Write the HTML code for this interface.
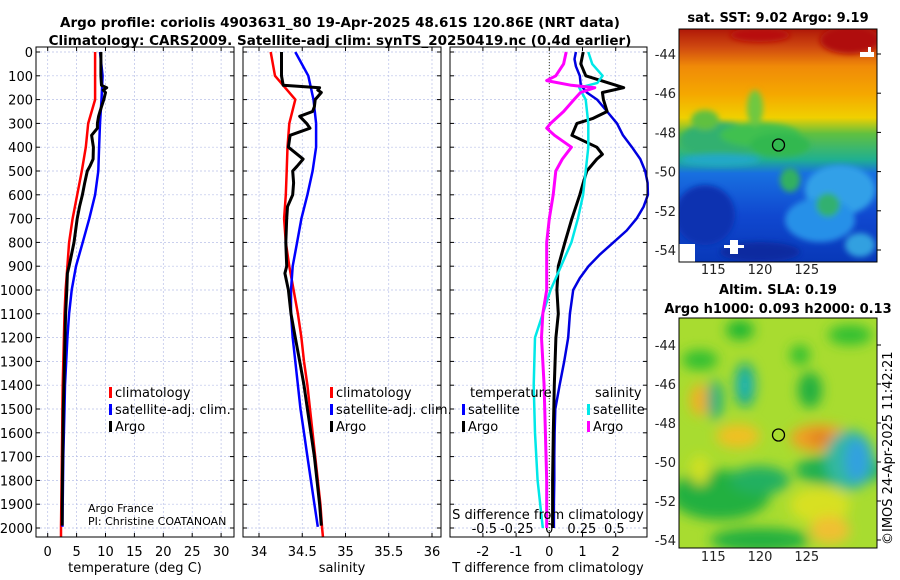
<!DOCTYPE html>
<html><head><meta charset="utf-8">
<style>
html,body{margin:0;padding:0;background:#fff;}
svg{display:block;font-family:"DejaVu Sans","Liberation Sans",sans-serif;}
</style></head>
<body>
<svg id="chart" width="900" height="580" viewBox="0 0 900 580">
<defs>
<filter id="blur6" x="-50%" y="-50%" width="200%" height="200%"><feGaussianBlur stdDeviation="6"/></filter>
<filter id="blur3" x="-50%" y="-50%" width="200%" height="200%"><feGaussianBlur stdDeviation="3"/></filter>
<linearGradient id="sstg" x1="0" y1="0" x2="0" y2="1">
<stop offset="0" stop-color="#b01808"/><stop offset="0.08" stop-color="#d04a10"/>
<stop offset="0.16" stop-color="#f08a08"/><stop offset="0.28" stop-color="#f5a800"/>
<stop offset="0.38" stop-color="#f0d000"/><stop offset="0.45" stop-color="#60c040"/>
<stop offset="0.56" stop-color="#20b090"/><stop offset="0.62" stop-color="#1870e0"/>
<stop offset="0.8" stop-color="#1048d0"/><stop offset="1" stop-color="#0838b8"/>
</linearGradient>
<clipPath id="clipTop"><rect x="679" y="29" width="198" height="233"/></clipPath>
<clipPath id="clipBot"><rect x="679" y="318" width="198" height="230"/></clipPath>
</defs>
<text x="340" y="27" text-anchor="middle" font-size="13.5" font-weight="bold">Argo profile: coriolis 4903631_80 19-Apr-2025 48.61S 120.86E (NRT data)</text>
<text x="340" y="45" text-anchor="middle" font-size="13.5" font-weight="bold">Climatology: CARS2009. Satellite-adj clim: synTS_20250419.nc (0.4d earlier)</text>
<g id="panels"></g>

<!-- SST map -->
<g>
<g clip-path="url(#clipTop)">
<rect x="679" y="29" width="198" height="233" fill="url(#sstg)"/>
<g filter="url(#blur3)">
<ellipse cx="850" cy="40" rx="30" ry="14" fill="#b00808"/>
<ellipse cx="760" cy="35" rx="30" ry="7" fill="#b81008"/>
<ellipse cx="720" cy="140" rx="40" ry="18" fill="#30b070"/>
<ellipse cx="705" cy="120" rx="14" ry="10" fill="#60c040"/>
<ellipse cx="760" cy="135" rx="40" ry="12" fill="#40c050"/>
<ellipse cx="755" cy="108" rx="8" ry="18" fill="#70c840"/>
<ellipse cx="780" cy="145" rx="30" ry="12" fill="#30b850"/>
<ellipse cx="790" cy="180" rx="10" ry="12" fill="#30b060"/>
<ellipse cx="720" cy="160" rx="40" ry="6" fill="#20a8c8"/>
<ellipse cx="840" cy="190" rx="35" ry="25" fill="#30a0e8"/>
<ellipse cx="820" cy="220" rx="35" ry="22" fill="#2890e8"/>
<ellipse cx="828" cy="205" rx="12" ry="12" fill="#30b070"/>
<ellipse cx="705" cy="215" rx="30" ry="30" fill="#0a30b0"/>
<ellipse cx="760" cy="252" rx="40" ry="10" fill="#0a2aa0"/>
<ellipse cx="860" cy="245" rx="15" ry="12" fill="#30a0e0"/>
</g>
<rect x="679" y="244" width="16" height="18" fill="#fff"/>
<rect x="730" y="240" width="8" height="14" fill="#fff"/>
<rect x="724" y="245" width="20" height="3" fill="#fff"/>
<rect x="860" y="52" width="14" height="5" fill="#fff"/>
<rect x="868" y="47" width="3" height="10" fill="#fff"/>
</g>
<rect x="679" y="29" width="198" height="233" fill="none" stroke="#000" stroke-width="1"/>
<circle cx="778.5" cy="145" r="6" fill="none" stroke="#000" stroke-width="1.3"/>
</g>
<text x="778" y="22" text-anchor="middle" font-size="13" font-weight="bold">sat. SST: 9.02 Argo: 9.19</text>

<!-- SLA map -->
<g>
<g clip-path="url(#clipBot)">
<rect x="679" y="318" width="198" height="230" fill="#a8dc30"/>
<g filter="url(#blur6)">
<ellipse cx="700" cy="360" rx="18" ry="10" fill="#30c030"/>
<ellipse cx="740" cy="330" rx="14" ry="10" fill="#20b830"/>
<ellipse cx="850" cy="335" rx="22" ry="10" fill="#30c030"/>
<ellipse cx="800" cy="355" rx="10" ry="10" fill="#30c030"/>
<ellipse cx="700" cy="400" rx="10" ry="16" fill="#f0b020"/>
<ellipse cx="715" cy="400" rx="8" ry="20" fill="#20b080"/>
<ellipse cx="745" cy="385" rx="10" ry="22" fill="#10a890"/>
<ellipse cx="745" cy="385" rx="5" ry="12" fill="#20b8c0"/>
<ellipse cx="810" cy="390" rx="12" ry="18" fill="#20b040"/>
<ellipse cx="738" cy="436" rx="22" ry="12" fill="#f0c020"/>
<ellipse cx="820" cy="438" rx="30" ry="14" fill="#f0a020"/>
<ellipse cx="820" cy="438" rx="12" ry="7" fill="#e08020"/>
<ellipse cx="720" cy="495" rx="50" ry="25" fill="#20b040"/>
<ellipse cx="760" cy="480" rx="30" ry="14" fill="#20b060"/>
<ellipse cx="840" cy="470" rx="45" ry="16" fill="#20b050"/>
<ellipse cx="850" cy="460" rx="25" ry="30" fill="#30b8a0"/>
<ellipse cx="857" cy="460" rx="12" ry="22" fill="#30a0e0"/>
<ellipse cx="700" cy="470" rx="10" ry="15" fill="#d0e020"/>
<ellipse cx="820" cy="505" rx="30" ry="18" fill="#d8e020"/>
<ellipse cx="830" cy="530" rx="20" ry="14" fill="#f0c030"/>
<ellipse cx="760" cy="540" rx="50" ry="12" fill="#20b040"/>
</g>
</g>
<rect x="679" y="318" width="198" height="230" fill="none" stroke="#000" stroke-width="1"/>
<circle cx="778.5" cy="435" r="6" fill="none" stroke="#000" stroke-width="1.3"/>
</g>
<text x="778" y="294" text-anchor="middle" font-size="13" font-weight="bold">Altim. SLA: 0.19</text>
<text x="778" y="313" text-anchor="middle" font-size="13" font-weight="bold">Argo h1000: 0.093 h2000: 0.13</text>
<text transform="translate(892,545) rotate(-90)" font-size="13">©IMOS 24-Apr-2025 11:42:21</text>
<g id="maps-axes"></g>
</svg>
<script>
// ---- data ----
const depthTicks = [0,100,200,300,400,500,600,700,800,900,1000,1100,1200,1300,1400,1500,1600,1700,1800,1900,2000];
const tempTicks = [0,5,10,15,20,25,30];
const salTicks = [34,34.5,35,35.5,36];
const salTickLabels = ["34","34.5","35","35.5","36"];
const tdiffTicks = [-2,-1,0,1,2];
const sdiffTicks = [-0.5,-0.25,0,0.25,0.5];
const sdiffTickLabels = ["-0.5","-0.25","0","0.25","0.5"];
const latTicks = [-44,-46,-48,-50,-52,-54];
const lonTicks = [115,120,125];

const climDepth = [0,100,200,300,400,500,600,700,800,900,1000,1100,1200,1300,1400,1500,1600,1700,1800,1900,2000,2040];
const tempClim = [8.2,8.2,8.2,7.0,6.6,5.9,5.1,4.3,3.7,3.4,3.1,2.9,2.8,2.7,2.6,2.55,2.5,2.45,2.4,2.35,2.3,2.3];
const salClim = [34.135,34.185,34.42,34.35,34.33,34.32,34.31,34.29,34.31,34.35,34.40,34.45,34.49,34.52,34.56,34.59,34.62,34.65,34.68,34.71,34.73,34.74];

const satDepth = [0,100,200,300,400,500,600,700,800,900,1000,1100,1200,1300,1400,1500,1600,1700,1800,1900,1995];
const tempSat = [9.05,9.5,9.3,9.05,8.9,8.75,8.2,7.2,6.05,4.9,4.15,3.7,3.4,3.2,3.0,2.9,2.8,2.7,2.65,2.6,2.55];
const salSat = [34.42,34.57,34.63,34.66,34.66,34.62,34.56,34.49,34.44,34.39,34.37,34.37,34.39,34.42,34.45,34.48,34.52,34.56,34.60,34.64,34.68];

const argoDepth = [0,100,140,150,160,170,200,230,250,270,300,320,350,400,450,480,500,550,600,650,700,800,900,930,1000,1100,1200,1300,1400,1500,1600,1700,1800,1900,1990];
const tempArgo = [9.2,9.2,9.3,10.2,9.6,10.0,9.7,9.3,9.05,8.8,8.6,8.6,7.6,7.9,7.85,7.3,6.85,6.4,6.0,5.5,5.1,4.55,3.7,3.4,3.3,3.1,3.0,2.9,2.8,2.7,2.65,2.6,2.55,2.5,2.5];
const salArgo = [34.26,34.26,34.28,34.70,34.68,34.72,34.65,34.64,34.62,34.47,34.55,34.59,34.36,34.34,34.51,34.44,34.39,34.40,34.39,34.33,34.32,34.31,34.32,34.30,34.34,34.37,34.42,34.47,34.52,34.56,34.60,34.64,34.67,34.70,34.72];

const tdiffSat = [0.8,0.76,0.8,0.92,0.95,1.13,1.44,1.74,2.04,2.22,2.49,2.74,2.89,2.96,2.97,2.84,2.63,2.33,1.93,1.53,1.18,0.92,0.72,0.62,0.57,0.45,0.31,0.18,0.16,0.15,0.15,0.14,0.14];
const tdiffSatDepth = [0,30,60,100,140,170,200,250,300,350,400,450,500,550,600,650,700,750,800,850,900,950,1000,1100,1200,1300,1400,1500,1600,1700,1800,1900,2000];
const tdiffArgoDepth = [0,50,100,150,170,200,250,280,300,350,400,430,450,500,550,600,700,800,900,1000,1100,1200,1400,1600,1800,2000];
const tdiffArgo = [1.02,0.95,1.1,2.24,1.6,1.63,1.74,1.3,0.83,0.68,1.43,1.6,1.43,1.13,1.02,0.92,0.68,0.47,0.27,0.23,0.27,0.2,0.15,0.12,0.1,0.1];
const sdiffSatDepth = [0,50,100,130,150,200,300,400,500,600,700,800,900,1000,1100,1200,1400,1600,1800,2000];
const sdiffSat = [0.30,0.33,0.41,0.37,0.23,0.28,0.30,0.30,0.28,0.26,0.22,0.17,0.09,0.01,-0.05,-0.11,-0.12,-0.11,-0.09,-0.05];
const sdiffArgoDepth = [0,50,100,120,140,150,170,200,250,300,320,350,400,450,500,600,700,800,900,1000,1100,1200,1400,1600,1800,2000];
const sdiffArgo = [0.13,0.11,0.05,-0.02,0.17,0.35,0.24,0.19,0.11,0.01,-0.02,0.04,0.17,0.10,0.05,0.03,0.0,-0.02,-0.02,-0.02,-0.05,-0.06,-0.04,-0.03,-0.02,-0.02];

// ---- layout ----
const NS = "http://www.w3.org/2000/svg";
const top0 = 47, bot0 = 537;
const yD = d => 52 + d * 0.238;
const xT = t => 47.7 + 5.78 * t;
const xS = s => 259 + 86.5 * (s - 34);
const xTD = v => 549.3 + 33.2 * v;
const xSD = v => 549.3 + 130 * v;
const panels = [{x0:36,x1:234},{x0:243,x1:441},{x0:450,x1:647}];
const root = document.getElementById('panels');
function mk(tag, attrs, parent){const e=document.createElementNS(NS,tag);for(const k in attrs)e.setAttribute(k,attrs[k]);(parent||root).appendChild(e);return e;}

panels.forEach((p,i)=>{
  const g = mk('g',{});
  
  
  depthTicks.forEach(d=>{
    const l = mk('line',{x1:p.x0,x2:p.x1,y1:yD(d),y2:yD(d),stroke:'#b8c0e8','stroke-width':0.7,'stroke-dasharray':'2,2'},g);
    
    
    mk('line',{x1:p.x0,x2:p.x0+4,y1:yD(d),y2:yD(d),stroke:'#000'},g);
    mk('line',{x1:p.x1-4,x2:p.x1,y1:yD(d),y2:yD(d),stroke:'#000'},g);
  });
});
function vgrid(ticks, fx){
  ticks.forEach(v=>{
    const l = mk('line',{x1:fx(v),x2:fx(v),y1:top0,y2:bot0,stroke:'#b8c0e8','stroke-width':0.7,'stroke-dasharray':'2,2'});
    
    
    mk('line',{x1:fx(v),x2:fx(v),y1:bot0-4,y2:bot0,stroke:'#000'});
    mk('line',{x1:fx(v),x2:fx(v),y1:top0,y2:top0+4,stroke:'#000'});
  });
}
vgrid(tempTicks, xT); vgrid(salTicks, xS); vgrid(tdiffTicks, xTD);
const z = mk('line',{x1:xTD(0),x2:xTD(0),y1:top0,y2:bot0,stroke:'#404020','stroke-width':1,'stroke-dasharray':'1,2'});



depthTicks.forEach(d=>{
  const t = mk('text',{x:33,y:yD(d)+5,'text-anchor':'end','font-size':13});
  t.textContent = d;
  
  
});
function xlabels(ticks, labels, fx, y){
  ticks.forEach((v,i)=>{
    const t = mk('text',{x:fx(v),y:y,'text-anchor':'middle','font-size':13});
    t.textContent = labels ? labels[i] : v;
    
    
  });
}
xlabels(tempTicks, null, xT, 556);
xlabels(salTicks, salTickLabels, xS, 556);
xlabels(tdiffTicks, null, xTD, 556);
xlabels(sdiffTicks, sdiffTickLabels, xSD, 533);

function line(xs, ds, fx, color, w, name){
  const pts = xs.map((v,i)=>fx(v).toFixed(1)+','+yD(ds[i]).toFixed(1)).join(' ');
  const e = mk('polyline',{points:pts,fill:'none',stroke:color,'stroke-width':w,'stroke-linejoin':'round'});
  
  
}
line(tempClim, climDepth, xT, '#ff0000', 2.5, 'temp-climatology-line');
line(tempSat, satDepth, xT, '#0000ff', 2.5, 'temp-satellite-line');
line(tempArgo, argoDepth, xT, '#000000', 3, 'temp-argo-line');
line(salClim, climDepth, xS, '#ff0000', 2.5, 'sal-climatology-line');
line(salSat, satDepth, xS, '#0000ff', 2.5, 'sal-satellite-line');
line(salArgo, argoDepth, xS, '#000000', 3, 'sal-argo-line');
line(tdiffSat, tdiffSatDepth, xTD, '#0000e0', 2.5, 'tdiff-satellite-line');
line(tdiffArgo, tdiffArgoDepth, xTD, '#000000', 3, 'tdiff-argo-line');
line(sdiffSat, sdiffSatDepth, xSD, '#00e8e8', 2.5, 'sdiff-satellite-line');
line(sdiffArgo, sdiffArgoDepth, xSD, '#ff00ff', 3, 'sdiff-argo-line');

panels.forEach(p=>{ mk('rect',{x:p.x0,y:top0,width:p.x1-p.x0,height:bot0-top0,fill:'none',stroke:'#000','stroke-width':1}); });

[[135,'temperature (deg C)','temp-axis-title'],[342,'salinity','sal-axis-title'],[548,'T difference from climatology','tdiff-axis-title']].forEach(a=>{
  const t = mk('text',{x:a[0],y:572,'text-anchor':'middle','font-size':13}); t.textContent=a[1];
   
});
const sdt = mk('text',{x:548,y:519,'text-anchor':'middle','font-size':13}); sdt.textContent='S difference from climatology';
 

function legend(x, y, color, label, name){
  const g = mk('g',{});
  
  
  mk('rect',{x:x,y:y-10,width:3,height:11,fill:color},g);
  const t = mk('text',{x:x+6,y:y,'font-size':13},g); t.textContent = label;
}
legend(109,397,'#ff0000','climatology','legend-temp-climatology');
legend(109,414,'#0000ff','satellite-adj. clim.','legend-temp-satellite');
legend(109,431,'#000000','Argo','legend-temp-argo');
legend(330,397,'#ff0000','climatology','legend-sal-climatology');
legend(330,414,'#0000ff','satellite-adj. clim.','legend-sal-satellite');
legend(330,431,'#000000','Argo','legend-sal-argo');
const lt = mk('text',{x:470,y:397,'font-size':13}); lt.textContent='temperature';
 
const ls = mk('text',{x:595,y:397,'font-size':13}); ls.textContent='salinity';
 
legend(462,414,'#0000ff','satellite','legend-tdiff-satellite');
legend(462,431,'#000000','Argo','legend-tdiff-argo');
legend(587,414,'#00e8e8','satellite','legend-sdiff-satellite');
legend(587,431,'#ff00ff','Argo','legend-sdiff-argo');

const c1 = mk('text',{x:88,y:512,'font-size':11}); c1.textContent='Argo France';
 
const c2 = mk('text',{x:88,y:525,'font-size':11}); c2.textContent='PI: Christine COATANOAN';
 

const ma = document.getElementById('maps-axes');
const xLon = lon => 760 + (lon - 120) * 9.35;
const yLatTop = lat => 54 + (-44 - lat) * 19.6;
const yLatBot = lat => 345 + (-44 - lat) * 19.5;
[[yLatTop,262,270],[yLatBot,548,557]].forEach(m=>{
  latTicks.forEach(lat=>{
    const y = m[0](lat);
    const t = mk('text',{x:676,y:y+5,'text-anchor':'end','font-size':13,fill:'#222'},ma);
    t.textContent = lat;
    
    
    mk('line',{x1:877,x2:881,y1:y,y2:y,stroke:'#000'},ma);
  });
  lonTicks.forEach(lon=>{
    const t = mk('text',{x:xLon(lon),y:m[2]+4,'text-anchor':'middle','font-size':13,fill:'#222'},ma);
    t.textContent = lon;
    
    
  });
});
</script>
</body></html>
